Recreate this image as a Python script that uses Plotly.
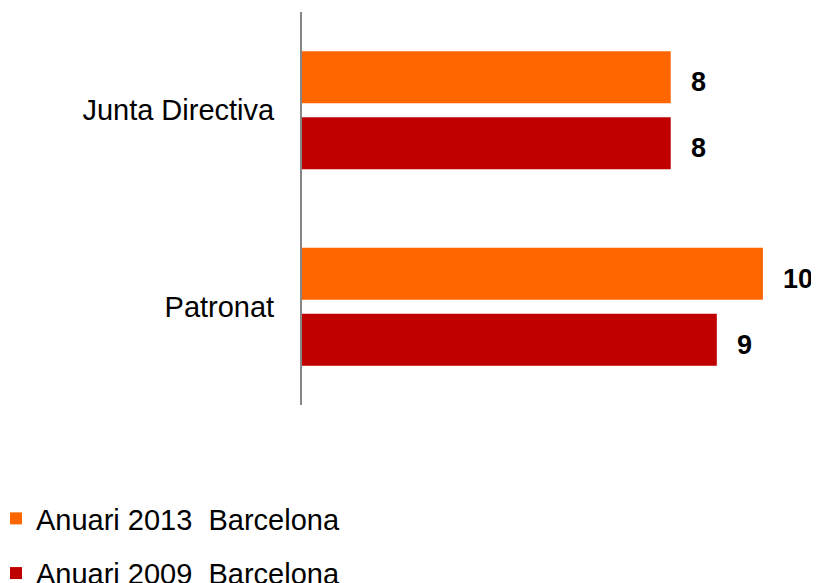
import plotly.graph_objects as go

categories = ["Junta Directiva", "Patronat"]
series_names = ["Anuari 2013  Barcelona", "Anuari 2009  Barcelona"]
values_2013 = [8, 10]
values_2009 = [8, 9]
colors = ["#FF6600", "#C00000"]

FONT = "Arial, Liberation Sans, sans-serif"

fig = go.Figure()
for i, (name, vals) in enumerate(zip(series_names, [values_2013, values_2009])):
    fig.add_trace(go.Bar(
        y=categories, x=vals, orientation="h", name=name,
        marker=dict(color=colors[i], line=dict(width=0)),
        legendgroup=f"g{i}",
    ))

# value labels
offsets = [-1, 1]
for i, vals in enumerate([values_2013, values_2009]):
    for c, v in zip(categories, vals):
        fig.add_annotation(
            x=v, y=c, text=f"<b>{v}</b>", showarrow=False,
            xanchor="left", xshift=18, yshift=-offsets[i] * 33 - 5,
            font=dict(family=FONT, size=27, color="#000000"),
        )

# page body has an 8px margin, so the figure is 8px smaller than the window
fig.update_layout(
    width=811, height=575,
    margin=dict(l=294, r=10, t=4, b=178, autoexpand=False),
    paper_bgcolor="white", plot_bgcolor="white",
    barmode="group", bargap=0.328, bargroupgap=0.212,
    font=dict(family=FONT, size=29, color="#000000"),
    showlegend=True,
    legend=dict(
        orientation="v", xref="paper", yref="container",
        x=-0.6036, xanchor="left", y=0.1565, yanchor="top",
        font=dict(family=FONT, size=29, color="#000000"),
        tracegroupgap=14, bgcolor="rgba(0,0,0,0)",
    ),
    xaxis=dict(range=[0, 11], showgrid=False, zeroline=False, showticklabels=False,
               showline=False, ticks="", automargin=False),
    yaxis=dict(autorange="reversed", showgrid=False, zeroline=False,
               showline=True, linecolor="#868686", linewidth=2, ticks="",
               ticklabelstandoff=20, automargin=False,
               tickfont=dict(family=FONT, size=29, color="#000000")),
)

fig.write_html("out.html")
